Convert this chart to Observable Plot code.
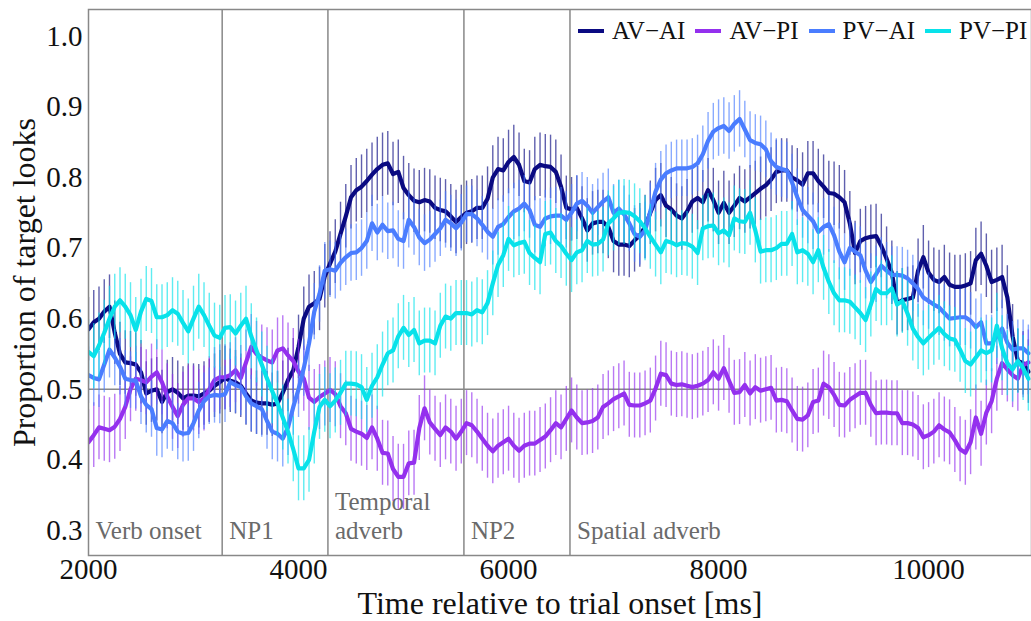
<!DOCTYPE html>
<html><head><meta charset="utf-8">
<script src="https://cdn.jsdelivr.net/npm/d3@7"></script>
<script src="https://cdn.jsdelivr.net/npm/@observablehq/plot@0.6"></script>
<style>
body{margin:0;background:#fff;}
#wrap{position:relative;width:1031px;height:621px;overflow:hidden;font-family:"Liberation Serif",serif;}
#legend{position:absolute;top:17px;left:578px;display:flex;align-items:center;font-size:25px;line-height:28px;color:#111;white-space:nowrap;}
.item{display:flex;align-items:center;margin-right:10px;}
.sw{width:26px;height:4px;margin-right:8px;}
</style></head>
<body><div id="wrap"><div id="legend"></div></div>
<script>
// ---- data ----
const seriesNames = ["AV\u2212AI", "AV\u2212PI", "PV\u2212AI", "PV\u2212PI"];
const seriesColors = ["#0a0a82", "#9430ee", "#4a7dff", "#08e2ea"];
const seriesErr = [0.045, 0.046, 0.04, 0.046];
const startTime = 2000, stepMs = 50;

const avAI = [
0.585,0.595,0.600,0.610,0.617,0.580,0.550,0.538,0.537,0.535,
0.524,0.494,0.498,0.500,0.482,0.496,0.500,0.495,0.487,0.491,
0.491,0.490,0.494,0.498,0.505,0.510,0.516,0.512,0.510,0.505,
0.494,0.484,0.481,0.480,0.480,0.478,0.480,0.495,0.513,0.527,
0.560,0.600,0.617,0.622,0.628,0.660,0.678,0.695,0.720,0.745,
0.772,0.782,0.787,0.795,0.804,0.812,0.818,0.820,0.805,0.808,
0.785,0.775,0.767,0.765,0.768,0.766,0.757,0.754,0.752,0.745,
0.737,0.744,0.750,0.752,0.757,0.757,0.770,0.800,0.812,0.810,
0.822,0.829,0.818,0.795,0.793,0.812,0.818,0.816,0.815,0.808,
0.787,0.757,0.755,0.757,0.742,0.725,0.735,0.737,0.737,0.730,
0.710,0.705,0.705,0.703,0.711,0.718,0.730,0.750,0.768,0.775,
0.760,0.755,0.746,0.742,0.752,0.766,0.771,0.765,0.782,0.768,
0.750,0.764,0.750,0.760,0.771,0.766,0.772,0.778,0.784,0.789,
0.797,0.808,0.810,0.810,0.800,0.796,0.790,0.806,0.806,0.795,
0.787,0.778,0.777,0.772,0.765,0.735,0.693,0.710,0.714,0.716,
0.717,0.703,0.685,0.665,0.622,0.626,0.628,0.630,0.668,0.687,
0.665,0.655,0.652,0.659,0.648,0.645,0.645,0.647,0.650,0.683,
0.692,0.675,0.652,0.655,0.659,0.630,0.575,0.540,0.537,0.525];

const avPI = [
0.425,0.435,0.446,0.444,0.442,0.447,0.458,0.475,0.500,0.515,
0.513,0.510,0.518,0.524,0.510,0.490,0.475,0.462,0.478,0.487,
0.487,0.482,0.487,0.500,0.513,0.517,0.517,0.520,0.527,0.516,
0.538,0.560,0.550,0.545,0.541,0.538,0.555,0.558,0.548,0.540,
0.525,0.515,0.488,0.482,0.489,0.494,0.499,0.493,0.476,0.466,
0.444,0.440,0.437,0.431,0.446,0.430,0.410,0.409,0.387,0.376,
0.376,0.395,0.396,0.445,0.473,0.453,0.444,0.435,0.446,0.440,
0.430,0.440,0.452,0.449,0.440,0.430,0.420,0.412,0.420,0.425,
0.430,0.420,0.413,0.420,0.423,0.423,0.428,0.433,0.442,0.452,
0.446,0.458,0.470,0.460,0.452,0.453,0.455,0.460,0.475,0.480,
0.486,0.490,0.494,0.478,0.477,0.477,0.480,0.484,0.501,0.522,
0.520,0.508,0.506,0.507,0.505,0.503,0.505,0.508,0.513,0.524,
0.515,0.530,0.512,0.495,0.496,0.506,0.494,0.503,0.498,0.500,
0.502,0.484,0.485,0.483,0.470,0.458,0.457,0.463,0.482,0.484,
0.508,0.503,0.492,0.478,0.477,0.485,0.490,0.495,0.495,0.478,
0.466,0.467,0.467,0.466,0.466,0.452,0.452,0.450,0.445,0.432,
0.435,0.440,0.449,0.443,0.439,0.428,0.415,0.410,0.425,0.460,
0.437,0.467,0.483,0.515,0.537,0.528,0.520,0.515,0.534,0.538];

const pvAI = [
0.520,0.516,0.514,0.535,0.556,0.545,0.532,0.515,0.513,0.512,
0.490,0.478,0.472,0.445,0.443,0.455,0.452,0.440,0.437,0.438,
0.452,0.470,0.483,0.490,0.492,0.491,0.493,0.510,0.506,0.503,
0.490,0.480,0.476,0.472,0.455,0.440,0.437,0.430,0.446,0.475,
0.500,0.530,0.565,0.610,0.635,0.668,0.670,0.668,0.679,0.687,
0.693,0.694,0.700,0.710,0.735,0.722,0.733,0.724,0.725,0.713,
0.710,0.740,0.730,0.715,0.707,0.712,0.720,0.728,0.740,0.735,
0.728,0.736,0.748,0.748,0.742,0.733,0.723,0.716,0.730,0.734,
0.744,0.752,0.756,0.763,0.754,0.733,0.730,0.742,0.745,0.746,
0.746,0.740,0.750,0.763,0.767,0.760,0.750,0.758,0.766,0.772,
0.750,0.756,0.748,0.735,0.720,0.716,0.725,0.752,0.780,0.797,
0.806,0.810,0.813,0.813,0.813,0.815,0.820,0.833,0.852,0.865,
0.870,0.873,0.866,0.876,0.883,0.868,0.853,0.849,0.847,0.840,
0.823,0.815,0.812,0.810,0.793,0.772,0.754,0.746,0.738,0.723,
0.730,0.734,0.718,0.695,0.680,0.700,0.695,0.690,0.668,0.652,
0.663,0.675,0.668,0.662,0.662,0.661,0.657,0.650,0.642,0.630,
0.625,0.620,0.616,0.608,0.600,0.601,0.602,0.602,0.597,0.588,
0.595,0.565,0.565,0.575,0.586,0.566,0.556,0.558,0.558,0.551];

const pvPI = [
0.553,0.547,0.562,0.580,0.600,0.617,0.626,0.617,0.605,0.584,
0.610,0.628,0.625,0.602,0.602,0.605,0.612,0.607,0.594,0.582,
0.600,0.617,0.605,0.590,0.576,0.573,0.587,0.588,0.579,0.590,
0.600,0.575,0.555,0.535,0.515,0.497,0.480,0.460,0.440,0.415,
0.388,0.388,0.400,0.440,0.475,0.485,0.476,0.484,0.495,0.508,
0.508,0.507,0.503,0.485,0.505,0.517,0.535,0.551,0.555,0.575,
0.587,0.577,0.584,0.565,0.569,0.569,0.565,0.590,0.603,0.600,
0.608,0.608,0.608,0.606,0.612,0.609,0.622,0.650,0.676,0.690,
0.713,0.704,0.707,0.709,0.693,0.686,0.680,0.720,0.722,0.710,
0.703,0.692,0.683,0.694,0.697,0.710,0.705,0.706,0.712,0.735,
0.742,0.750,0.751,0.750,0.745,0.738,0.728,0.716,0.705,0.694,
0.710,0.708,0.704,0.707,0.706,0.702,0.693,0.728,0.731,0.732,
0.721,0.725,0.718,0.742,0.738,0.737,0.750,0.725,0.695,0.697,
0.697,0.700,0.706,0.706,0.720,0.694,0.697,0.692,0.680,0.697,
0.672,0.652,0.636,0.626,0.626,0.624,0.616,0.608,0.598,0.620,
0.642,0.636,0.636,0.643,0.620,0.625,0.607,0.586,0.574,0.565,
0.573,0.580,0.587,0.578,0.572,0.570,0.556,0.540,0.535,0.545,
0.555,0.551,0.555,0.590,0.558,0.537,0.528,0.540,0.530,0.515];

const segmentBounds = [3273, 4280, 5575, 6585];
const segmentLabels = [
  {t: 2000, label: "Verb onset"},
  {t: 3273, label: "NP1"},
  {t: 4280, label: "Temporal\nadverb"},
  {t: 5575, label: "NP2"},
  {t: 6585, label: "Spatial adverb"}
];
const xTicks = [2000, 4000, 6000, 8000, 10000];
const yTicks = [0.3, 0.4, 0.5, 0.6, 0.7, 0.8, 0.9, 1.0];
const xDomain = [2000, 10980];
const yDomain = [0.2645, 1.038];
const chanceLevel = 0.5;
const xLabel = "Time relative to trial onset [ms]";
const yLabel = "Proportion of target looks";

// ---- build ----
const seriesValues = [avAI, avPI, pvAI, pvPI];
const seriesRows = seriesValues.map((vals, s) =>
  vals.map((v, i) => ({series: seriesNames[s], t: startTime + i * stepMs, v, se: seriesErr[s]})));

const gray = "#888";
const marks = [
  Plot.ruleX(segmentBounds, {stroke: gray, strokeWidth: 1.5}),
  Plot.ruleY([chanceLevel], {stroke: gray, strokeWidth: 1.5}),
  Plot.text(segmentLabels, {x: "t", text: "label", frameAnchor: "bottom", textAnchor: "start",
    lineAnchor: "bottom", lineHeight: 1.15, dx: 7, dy: -17, fontSize: 25, fill: "#6a6a6a"})
];
seriesRows.forEach((rows, s) => {
  marks.push(Plot.ruleX(rows, {x: "t", y1: d => d.v - d.se, y2: d => d.v + d.se,
    stroke: seriesColors[s], strokeWidth: 1.4, strokeOpacity: 0.65, clip: true}));
  marks.push(Plot.line(rows, {x: "t", y: "v", stroke: seriesColors[s], strokeWidth: 4.2,
    strokeLinejoin: "round", strokeLinecap: "round", clip: true}));
});
marks.push(
  Plot.frame({stroke: gray, strokeWidth: 1.5}),
  Plot.axisX(xTicks, {tickSize: 0, tickPadding: 3, fontSize: 29, label: null, tickFormat: d => String(d)}),
  Plot.axisY(yTicks, {tickSize: 0, tickPadding: 6, fontSize: 29, label: null, tickFormat: d3.format(".1f")}),
  Plot.text([xLabel], {frameAnchor: "bottom", dy: 48, lineAnchor: "middle", textAnchor: "middle", fontSize: 32, fill: "#111"}),
  Plot.text([yLabel], {frameAnchor: "left", rotate: -90, dx: -64, lineAnchor: "middle", textAnchor: "middle", fontSize: 32, fill: "#111"})
);

const chart = Plot.plot({
  width: 1031, height: 621,
  marginLeft: 88, marginRight: 0, marginTop: 9, marginBottom: 66,
  x: {domain: xDomain},
  y: {domain: yDomain},
  style: {fontFamily: "Liberation Serif, serif", color: "#111", background: "#fff", overflow: "visible"},
  marks
});
document.getElementById("wrap").prepend(chart);

const legend = document.getElementById("legend");
seriesNames.forEach((n, i) => {
  const it = document.createElement("div"); it.className = "item";
  const sw = document.createElement("div"); sw.className = "sw"; sw.style.background = seriesColors[i];
  const tx = document.createElement("span"); tx.textContent = n;
  it.append(sw, tx); legend.append(it);
});
</script></body></html>
